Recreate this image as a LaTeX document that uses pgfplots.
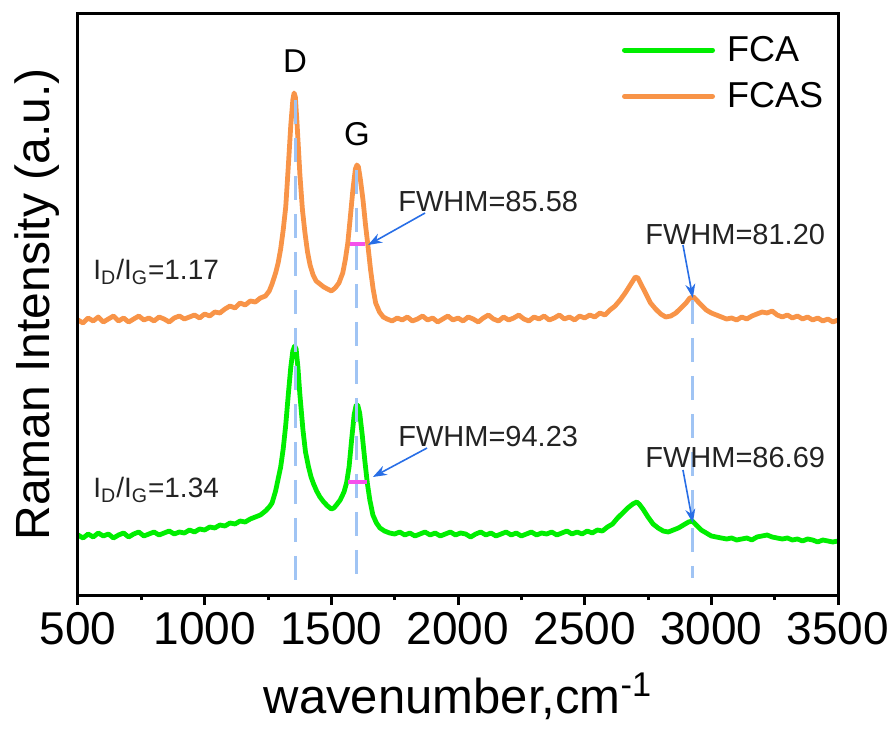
\documentclass[border=0pt]{standalone}
\usepackage{fontspec}
\setmainfont{Liberation Sans}
\usepackage{pgfplots}
\pgfplotsset{compat=1.18}
\usetikzlibrary{arrows.meta}
\definecolor{orangeC}{RGB}{248,148,72}
\definecolor{greenC}{RGB}{0,238,0}
\definecolor{dashC}{RGB}{160,196,244}
\definecolor{magC}{RGB}{245,80,235}
\definecolor{arrC}{RGB}{40,110,230}
\definecolor{txtC}{RGB}{35,35,35}
\begin{document}
\begin{tikzpicture}
\path[use as bounding box] (0,0) rectangle (448bp,364.5bp);
\begin{axis}[
  at={(39bp,67bp)}, anchor=south west,
  width=380bp, height=290.5bp, scale only axis,
  xmin=500, xmax=3500, ymin=0, ymax=581,
  clip=false,
  axis line style={line width=1.5bp, black},
  xtick={500,1000,...,3500}, ytick=\empty,
  minor xtick={750,1250,...,3250},
  xtick pos=bottom,
  tick align=outside,
  major tick length=5bp, minor tick length=2.5bp,
  tick style={line width=1.5bp, black},
  /pgf/number format/assume math mode=true,
  /pgf/number format/1000 sep={},
  xticklabel style={font=\fontsize{23bp}{23bp}\selectfont, text=black},
  xlabel={wavenumber,cm\textsuperscript{-1}},
  xlabel style={font=\fontsize{24.5bp}{24.5bp}\selectfont, at={(axis description cs:0.5,-0.2048)}, anchor=base, inner sep=0pt},
  ylabel={Raman Intensity (a.u.)},
  ylabel style={font=\fontsize{24bp}{24bp}\selectfont, at={(axis description cs:-0.0237,0.5)}, anchor=south, inner sep=0pt},
  legend style={at={(rel axis cs:0.7158,0.962)}, anchor=north west, draw=none, fill=none, inner sep=0pt, outer sep=0pt,
    font=\fontsize{18bp}{18bp}\selectfont, row sep=9bp,
    /tikz/every odd column/.append style={column sep=6bp},
    nodes={inner sep=0pt}},
  legend cell align=left,
  legend image code/.code={\draw[#1, line width=2.5bp, line cap=round] (0bp,0bp) -- (44bp,0bp);},
]
% FCA (green)
\addplot[greenC, line width=2.4bp, line join=round] coordinates {
(500,60)(520,57)(540,61)(560,58)(580,62)(600,59)(620,61)(640,57)(660,60)(680,62)
(700,58)(720,61)(740,63)(760,59)(780,61)(800,63)(820,60)(840,62)(860,64)(880,61)
(900,63)(920,62)(940,65)(960,63)(980,66)(1000,65)(1020,68)(1040,67)(1060,70)(1080,69)
(1100,72)(1120,71)(1140,74)(1160,73)(1180,76)(1200,78)(1220,80)(1240,84)(1255,88)(1266,92)
(1280,104)(1290,116)(1300,128)(1310,146)(1320,170)(1330,200)(1340,228)(1348,244)(1355,249)(1361,246)
(1368,228)(1376,200)(1388,165)(1398,143)(1410,128)(1420,118)(1430,111)(1442,104)(1455,98)(1470,93)
(1485,89)(1500,86)(1510,87)(1520,90)(1535,95)(1550,103)(1560,112)(1570,128)(1580,155)(1590,180)
(1598,190)(1604,190)(1612,182)(1622,160)(1632,135)(1642,112)(1652,95)(1664,80)(1678,72)(1692,67)
(1710,64)(1730,62)(1750,61)(1770,63)(1790,60)(1810,62)(1830,59)(1850,61)(1870,63)(1890,60)
(1910,62)(1930,59)(1950,61)(1970,63)(1990,60)(2010,62)(2030,61)(2050,58)(2070,61)(2090,63)
(2110,60)(2130,62)(2150,59)(2170,61)(2190,63)(2210,60)(2230,62)(2250,59)(2270,61)(2290,63)
(2310,60)(2330,62)(2350,61)(2370,63)(2390,60)(2410,62)(2430,64)(2450,61)(2470,63)(2490,61)
(2510,64)(2530,62)(2550,65)(2570,64)(2590,68)(2610,71)(2630,77)(2650,82)(2670,87)(2690,91)
(2705,93)(2715,91)(2730,86)(2750,78)(2770,71)(2790,67)(2810,64)(2830,63)(2850,65)(2870,67)
(2890,70)(2910,73)(2925,74)(2940,70)(2960,65)(2980,62)(3000,59)(3020,58)(3040,57)(3060,56)
(3080,57)(3100,55)(3120,56)(3140,57)(3160,55)(3180,58)(3200,59)(3220,60)(3240,58)(3260,57)
(3280,56)(3300,57)(3320,55)(3340,56)(3360,54)(3380,56)(3400,55)(3420,53)(3440,55)(3460,54)
(3480,53)(3500,54)
};
\addlegendentry{FCA}
% FCAS (orange)
\addplot[orangeC, line width=2.4bp, line join=round] coordinates {
(500,275)(520,272)(540,277)(560,274)(580,278)(600,273)(620,276)(640,279)(660,274)(680,277)
(700,273)(720,276)(740,279)(760,275)(780,277)(800,274)(820,278)(840,276)(860,273)(880,277)
(900,279)(920,276)(940,278)(960,280)(980,277)(1000,281)(1020,279)(1040,283)(1060,282)(1080,286)
(1100,289)(1120,287)(1140,292)(1160,290)(1180,294)(1200,293)(1220,297)(1240,299)(1255,304)(1266,311)
(1280,322)(1290,332)(1300,346)(1310,365)(1320,388)(1330,428)(1340,470)(1348,495)(1353,502)(1358,498)
(1365,470)(1376,420)(1386,385)(1396,362)(1406,343)(1416,330)(1428,320)(1440,314)(1455,311)(1470,308)
(1485,306)(1500,304)(1515,307)(1530,312)(1545,322)(1555,335)(1565,352)(1575,378)(1585,405)(1595,426)
(1601,430)(1607,428)(1615,415)(1625,395)(1635,370)(1645,348)(1655,325)(1665,306)(1675,292)(1690,283)
(1705,278)(1720,276)(1740,274)(1760,277)(1780,275)(1800,278)(1820,274)(1840,276)(1860,279)(1880,275)
(1900,277)(1920,273)(1940,276)(1960,279)(1980,275)(2000,277)(2020,274)(2040,278)(2060,276)(2080,273)
(2100,277)(2120,280)(2140,276)(2160,274)(2180,278)(2200,275)(2220,277)(2240,280)(2260,276)(2280,274)
(2300,278)(2320,276)(2340,279)(2360,275)(2380,277)(2400,280)(2420,276)(2440,278)(2460,275)(2480,279)
(2500,277)(2520,280)(2540,278)(2560,282)(2580,280)(2600,285)(2620,289)(2640,295)(2660,302)(2680,310)
(2700,318)(2710,317)(2720,312)(2740,302)(2760,292)(2780,286)(2800,281)(2820,278)(2840,279)(2860,282)
(2880,287)(2900,292)(2915,297)(2930,298)(2945,294)(2960,290)(2980,285)(3000,282)(3020,280)(3040,278)
(3060,276)(3080,277)(3100,275)(3120,278)(3140,276)(3160,279)(3180,281)(3200,283)(3220,282)(3240,284)
(3260,280)(3280,278)(3300,280)(3320,277)(3340,279)(3360,276)(3380,278)(3400,275)(3420,277)(3440,274)
(3460,276)(3480,273)(3500,275)
};
\addlegendentry{FCAS}
% dashed guide lines
\addplot[forget plot, dashC, line width=1.5bp, dash pattern=on 12bp off 7bp] coordinates {(1357,495)(1357,5)};
\addplot[forget plot, dashC, line width=1.5bp, dash pattern=on 12bp off 7bp] coordinates {(1601,425)(1601,17)};
\addplot[forget plot, dashC, line width=1.5bp, dash pattern=on 12bp off 7bp] coordinates {(2924,295)(2924,17)};
% FWHM bars
\addplot[forget plot, magC, line width=2bp] coordinates {(1574,351)(1633,351)};
\addplot[forget plot, magC, line width=2bp] coordinates {(1566,113)(1641,113)};
% arrows
\draw[arrC, line width=0.8bp, -{Stealth[length=7bp,width=5bp]}] (axis cs:1870,382) -- (axis cs:1645,350);
\draw[arrC, line width=0.8bp, -{Stealth[length=7bp,width=5bp]}] (axis cs:1878,147) -- (axis cs:1664,118);
\draw[arrC, line width=0.8bp, -{Stealth[length=7bp,width=5bp]}] (axis cs:2888,350) -- (axis cs:2927,297);
\draw[arrC, line width=0.8bp, -{Stealth[length=7bp,width=5bp]}] (axis cs:2888,125) -- (axis cs:2927,72);
% frame
\draw[line width=1.5bp, black] (rel axis cs:0,0) rectangle (rel axis cs:1,1);
% labels
\node[anchor=base, inner sep=0pt, font=\fontsize{16.5bp}{16.5bp}\selectfont] at (axis cs:1357,522) {D};
\node[anchor=base, inner sep=0pt, font=\fontsize{16.5bp}{16.5bp}\selectfont] at (axis cs:1601,449) {G};
\node[anchor=base west, inner sep=0pt, text=txtC, font=\fontsize{14.5bp}{14.5bp}\selectfont] at (axis cs:1763,383) {FWHM=85.58};
\node[anchor=base west, inner sep=0pt, text=txtC, font=\fontsize{14.5bp}{14.5bp}\selectfont] at (axis cs:1763,148) {FWHM=94.23};
\node[anchor=base west, inner sep=0pt, text=txtC, font=\fontsize{14.5bp}{14.5bp}\selectfont] at (axis cs:2738,350) {FWHM=81.20};
\node[anchor=base west, inner sep=0pt, text=txtC, font=\fontsize{14.5bp}{14.5bp}\selectfont] at (axis cs:2738,127) {FWHM=86.69};
\node[anchor=base west, inner sep=0pt, text=txtC, font=\fontsize{14bp}{14bp}\selectfont] at (axis cs:559,315) {I\textsubscript{D}/I\textsubscript{G}=1.17};
\node[anchor=base west, inner sep=0pt, text=txtC, font=\fontsize{14bp}{14bp}\selectfont] at (axis cs:559,97) {I\textsubscript{D}/I\textsubscript{G}=1.34};
\end{axis}
\end{tikzpicture}
\end{document}
